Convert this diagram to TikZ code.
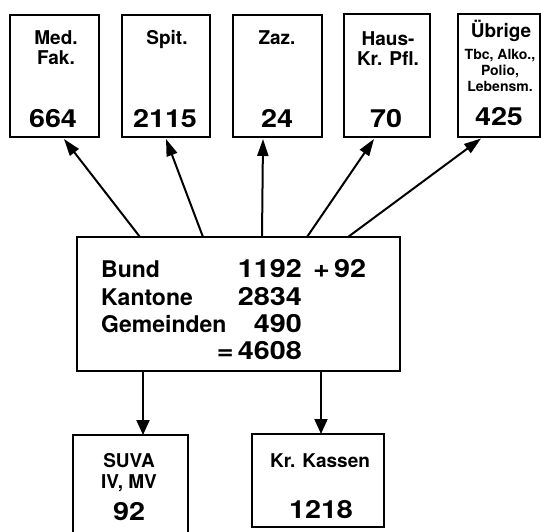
\documentclass[tikz,border=0pt]{standalone}
\usepackage{fontspec}
\setmainfont{TeX Gyre Heros}
\newfontfamily\numfont{TeX Gyre Heros}[FakeStretch=1.15]
\usetikzlibrary{arrows.meta}
\begin{document}
\begin{tikzpicture}[x=1pt,y=-1pt,
  box/.style={draw,line width=2.8pt,rectangle,inner sep=0pt},
  arr/.style={line width=2pt,-{Triangle[length=17pt,width=11pt]}},
  arrd/.style={line width=2pt,-{Triangle[length=15pt,width=13pt]}},
  lab/.style={anchor=base,inner sep=0pt,font=\fontsize{19}{21}\selectfont\bfseries},
  small/.style={anchor=base,inner sep=0pt,font=\fontsize{14}{16}\selectfont\bfseries},
  num/.style={anchor=base,inner sep=0pt,font=\fontsize{25}{27}\selectfont\numfont\bfseries},
  big/.style={inner sep=0pt,font=\fontsize{23}{25}\selectfont\bfseries},
  bignum/.style={inner sep=0pt,font=\fontsize{25}{27}\selectfont\numfont\bfseries}]
\useasboundingbox (0,0) rectangle (541,531);
% top boxes
\node[box,minimum width=89pt,minimum height=122pt] (b1) at (54.5,76) {};
\node[box,minimum width=88pt,minimum height=122pt] (b2) at (166,76) {};
\node[box,minimum width=89pt,minimum height=122pt] (b3) at (277.5,76) {};
\node[box,minimum width=86pt,minimum height=123pt] (b4) at (387,75.5) {};
\node[box,minimum width=82pt,minimum height=123pt] (b5) at (499,75.5) {};
% center box
\node[box,minimum width=323pt,minimum height=134pt] (c) at (238.5,304) {};
% bottom boxes
\node[box,minimum width=115pt,minimum height=110pt] (s1) at (130.5,490) {};
\node[box,minimum width=132pt,minimum height=93pt] (s2) at (318,480.5) {};
% texts top
\node[lab] (t1a) at (56,44) {Med.};
\node[lab] (t1b) at (56,64) {Fak.};
\node[num] (t1c) at (53,127) {664};
\node[lab] (t2a) at (167,44) {Spit.};
\node[num] (t2c) at (165,127) {2115};
\node[lab] (t3a) at (277,44) {Zaz.};
\node[num] (t3c) at (277,127) {24};
\node[lab] (t4a) at (388,45) {Haus-};
\node[lab] (t4b) at (388,65) {Kr. Pfl.};
\node[num] (t4c) at (386,127) {70};
\node[lab] (t5a) at (501,37) {Übrige};
\node[small] (t5b) at (500,59) {Tbc, Alko.,};
\node[small] (t5c) at (500,75) {Polio,};
\node[small] (t5d) at (500,91) {Lebensm.};
\node[num] (t5e) at (499,125) {425};
% center texts
\node[big,anchor=base west] (l1) at (101,277) {Bund};
\node[big,anchor=base west] (l2) at (101,305) {Kantone};
\node[big,anchor=base west] (l3) at (101,332) {Gemeinden};
\node[bignum,anchor=base east] (n1) at (302,277) {1192};
\node[bignum,anchor=base west] (n1b) at (313,277) {+\,92};
\node[bignum,anchor=base east] (n2) at (302,305) {2834};
\node[bignum,anchor=base east] (n3) at (302,332) {490};
\node[bignum,anchor=base east] (n4) at (302,359) {=\,4608};
% bottom texts
\node[lab] (u1a) at (129,467) {SUVA};
\node[lab] (u1b) at (129,488) {IV, MV};
\node[num] (u1c) at (129,520) {92};
\node[lab] (u2a) at (320,467) {Kr. Kassen};
\node[num] (u2c) at (321,518) {1218};
% connector points
\coordinate (c1) at (140,237);
\coordinate (c2) at (203,237);
\coordinate (c3) at (262,237);
\coordinate (c4) at (307,237);
\coordinate (c5) at (348,237);
\coordinate (e1) at (64,139);
\coordinate (e2) at (166,139);
\coordinate (e3) at (263,139);
\coordinate (e4) at (374,139);
\coordinate (e5) at (481,138.5);
\coordinate (d1) at (143,371);
\coordinate (d2) at (321,371);
\coordinate (f1) at (143,435);
\coordinate (f2) at (321,434);
\draw[arr] (c1) -- (e1);
\draw[arr] (c2) -- (e2);
\draw[arr] (c3) -- (e3);
\draw[arr] (c4) -- (e4);
\draw[arr] (c5) -- (e5);
\draw[arrd] (d1) -- (f1);
\draw[arrd] (d2) -- (f2);
\end{tikzpicture}
\end{document}
